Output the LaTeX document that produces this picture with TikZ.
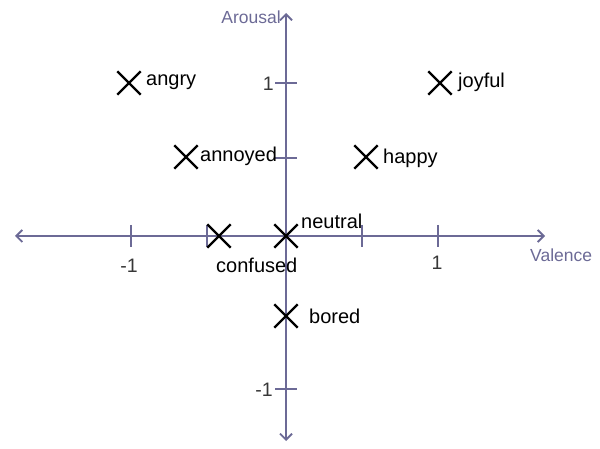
\documentclass[tikz,border=0pt]{standalone}
\usepackage{fontspec}
\setmainfont{Liberation Sans}
\usetikzlibrary{arrows.meta,shapes.misc}
\definecolor{axiscol}{RGB}{108,106,150}
\definecolor{ticktext}{RGB}{55,55,55}
\begin{document}
\begin{tikzpicture}[x=1pt,y=-1pt,
  axis/.style={draw=axiscol,line width=2pt,-{Straight Barb[length=6pt,width=12pt,line width=1.8pt]}},
  tickline/.style={draw=axiscol,line width=2pt},
  xmark/.style={cross out,draw=black,line width=2.4pt,minimum size=21pt,inner sep=0pt},
  lbl/.style={font=\fontsize{20}{23}\selectfont,text=black,inner sep=0pt},
  axlbl/.style={font=\fontsize{17.5}{20}\selectfont,text=axiscol,inner sep=0pt},
  ticklbl/.style={font=\fontsize{19.5}{22}\selectfont,text=ticktext,inner sep=0pt}]
\useasboundingbox (0,0) rectangle (600,449);
% axes
\coordinate (O) at (286,236);
\coordinate (xl) at (15,236);
\coordinate (xr) at (545,236);
\coordinate (yt) at (286,13);
\coordinate (yb) at (286,441);
\draw[axis] (O) -- (xr);
\draw[axis] (O) -- (xl);
\draw[axis] (O) -- (yt);
\draw[axis] (O) -- (yb);
% x ticks
\foreach \n/\x in {xa/131,xb/207,xc/362,xd/438}{
  \coordinate (\n t) at (\x,225);
  \coordinate (\n b) at (\x,247);
  \draw[tickline] (\n t) -- (\n b);
}
% y ticks
\foreach \n/\y in {ya/83,yb/158,yc/389}{
  \coordinate (\n l) at (275,\y);
  \coordinate (\n r) at (297,\y);
  \draw[tickline] (\n l) -- (\n r);
}
% tick labels
\node[ticklbl] (lm1x) at (129,266) {-1};
\node[ticklbl] (l1x) at (437,263) {1};
\node[ticklbl,anchor=east] (l1y) at (274,84) {1};
\node[ticklbl,anchor=east] (lm1y) at (273,390) {-1};
% axis labels
\node[axlbl,anchor=east] (arousal) at (281,17) {Arousal};
\node[axlbl,anchor=west] (valence) at (530,255) {Valence};
% crosses
\node[xmark] (angry) at (129,83) {};
\node[xmark] (joyful) at (440,83) {};
\node[xmark] (annoyed) at (186,157) {};
\node[xmark] (happy) at (366,157) {};
\node[xmark] (confused) at (219,236) {};
\node[xmark] (neutral) at (286,236) {};
\node[xmark] (bored) at (286,316) {};
% labels
\node[lbl,anchor=west] (langry) at (146,82) {angry};
\node[lbl,anchor=west] (ljoyful) at (458,82) {joyful};
\node[lbl,anchor=west] (lannoyed) at (200,156) {annoyed};
\node[lbl,anchor=west] (lhappy) at (383,158) {happy};
\node[lbl,anchor=west] (lneutral) at (301,221) {neutral};
\node[lbl,anchor=west] (lconfused) at (216,265) {confused};
\node[lbl,anchor=west] (lbored) at (309,316) {bored};
\end{tikzpicture}
\end{document}
